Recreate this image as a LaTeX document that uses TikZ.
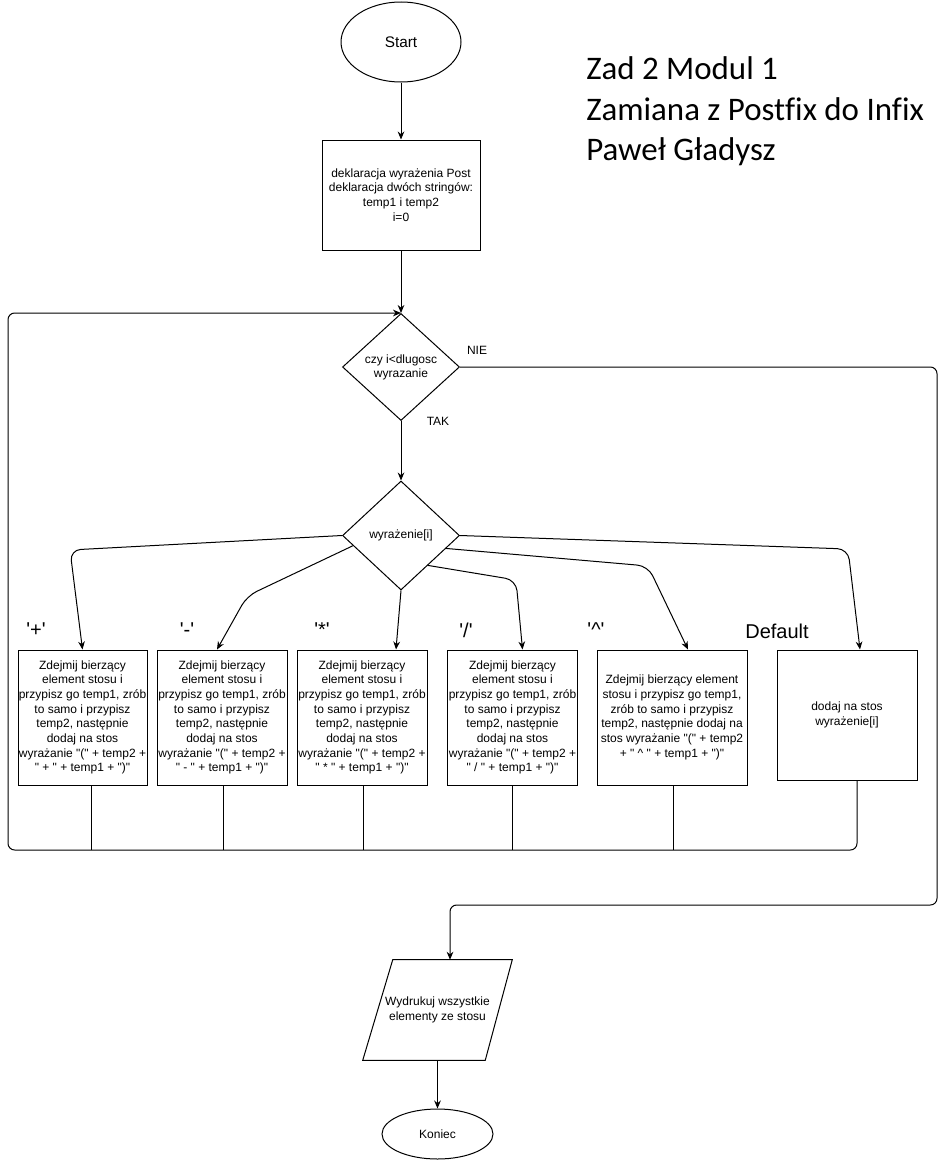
\documentclass[tikz,border=0pt]{standalone}
\usepackage{fontspec}
\newfontfamily\arial{Liberation Sans}
\newfontfamily\calibri{Carlito}[Ligatures=NoCommon]
\usetikzlibrary{arrows.meta,shapes.geometric,calc}

\begin{document}
\begin{tikzpicture}[x=0.75pt,y=-0.75pt,
  every node/.style={font=\arial\fontsize{9}{11}\selectfont},
  line/.style={line width=0.75pt},
  flow/.style={line, -{Stealth[length=6pt,width=5pt]}},
  box/.style={draw, line width=0.75pt, rectangle, inner sep=0pt, align=center},
  term/.style={draw, line width=0.75pt, ellipse, inner sep=0pt},
  decision/.style={draw, line width=0.75pt, diamond, inner sep=0pt, align=center,
    font=\arial\fontsize{9}{10.5}\selectfont},
  case/.style={font=\arial\fontsize{15}{18}\selectfont},
  title/.style={font=\calibri\fontsize{24.7}{30}\selectfont, anchor=base west, inner sep=0pt},
  link/.style={flow, rounded corners=8pt},
  back/.style={line, rounded corners=5pt}
]
\fill[white] (0,0) rectangle (946,1160);
\useasboundingbox (0,0) rectangle (946,1160);

% title block
\node[title] (t1) at (586,79) {Zad 2 Modul 1};
\node[title] (t2) at (586,120) {Zamiana z Postfix do Infix};
\node[title] (t3) at (586,160) {Paweł Gładysz};

% main column
\node[term, minimum width=90pt, minimum height=60pt, font=\arial\fontsize{11.5}{14}\selectfont]
  (start) at (401,42) {Start};
\node[box, minimum width=118.5pt, minimum height=82.5pt] (decl) at (401,195)
  {deklaracja wyrażenia Post\\deklaracja dwóch stringów:\\temp1 i temp2\\i=0};
\node[decision, minimum width=87.75pt, minimum height=80.25pt] (cond) at (401,367)
  {czy i<dlugosc\\wyrazanie};
\node (nie) at (477,350) {NIE};
\node (tak) at (438,421) {TAK};
\node[decision, minimum width=87.75pt, minimum height=81.75pt] (sw) at (401,535.5)
  {wyrażenie[i]};

% case labels
\node[case] (lplus) at (36,630) {'+'};
\node[case] (lminus) at (187,630) {'-'};
\node[case] (lmul) at (322,630) {'*'};
\node[case] (ldiv) at (466,630) {'/'};
\node[case] (lpow) at (596,630) {'\textasciicircum'};
\node[case] (ldef) at (777,631) {Default};

% operation boxes
\node[box, minimum width=96.75pt, minimum height=101.25pt] (opA) at (82.5,717.5)
  {Zdejmij bierzący\\element stosu i\\przypisz go temp1, zrób\\to samo i przypisz\\temp2, następnie\\dodaj na stos\\wyrażanie "(" + temp2 +\\" + " + temp1 + ")"};
\node[box, minimum width=97.5pt, minimum height=101.25pt] (opB) at (222,717.5)
  {Zdejmij bierzący\\element stosu i\\przypisz go temp1, zrób\\to samo i przypisz\\temp2, następnie\\dodaj na stos\\wyrażanie "(" + temp2 +\\" - " + temp1 + ")"};
\node[box, minimum width=97.5pt, minimum height=101.25pt] (opC) at (362,717.5)
  {Zdejmij bierzący\\element stosu i\\przypisz go temp1, zrób\\to samo i przypisz\\temp2, następnie\\dodaj na stos\\wyrażanie "(" + temp2 +\\" * " + temp1 + ")"};
\node[box, minimum width=97.5pt, minimum height=101.25pt] (opD) at (512.5,717.5)
  {Zdejmij bierzący\\element stosu i\\przypisz go temp1, zrób\\to samo i przypisz\\temp2, następnie\\dodaj na stos\\wyrażanie "(" + temp2 +\\" / " + temp1 + ")"};
\node[box, minimum width=112.5pt, minimum height=101.25pt] (opE) at (672,717.5)
  {Zdejmij bierzący element\\stosu i przypisz go temp1,\\zrób to samo i przypisz\\temp2, następnie dodaj na\\stos wyrażanie "(" + temp2\\+ " \textasciicircum{} " + temp1 + ")"};
\node[box, minimum width=105pt, minimum height=97.5pt] (opF) at (847,715)
  {dodaj na stos\\wyrażenie[i]};

% output and end
\node[inner sep=0pt, minimum width=111.75pt, minimum height=75pt, align=center] (print) at (437.5,1010)
  {Wydrukuj wszystkie\\elementy ze stosu};
\draw[line] ($(print.north west)+(30,0)$) -- (print.north east)
  -- ($(print.south east)+(-27,0)$) -- (print.south west) -- cycle;
\node[term, minimum width=83.25pt, minimum height=37.5pt] (end) at (437.5,1134) {Koniec};

% junctions of the loop-back lines
\coordinate (jA) at (91,850);
\coordinate (jB) at (223,850);
\coordinate (jC) at (363,850);
\coordinate (jD) at (512,850);
\coordinate (jE) at (673,850);
\coordinate (jF) at (857,850);
\coordinate (lft) at (8,850);
\coordinate (nie1) at (937,905);
\coordinate (nie2) at (450,905);

% connectors
\draw[flow] (start) -- (decl);
\draw[flow] (decl) -- (cond);
\draw[flow] (cond) -- (sw);

\draw[link] (sw.west) -- (70,550) -- (opA.north);
\draw[link] (sw.192) -- (247,596) -- ([xshift=-3.75pt]opB.north);
\draw[flow] (sw.south) -- ([xshift=25.5pt]opC.north);
\draw[link] (sw.312) -- (516,580) -- ([xshift=7.5pt]opD.north);
\draw[link] (sw.344) -- (648,566) -- ([xshift=12pt]opE.north);
\draw[link] (sw.east) -- (848,549) -- ([xshift=9.75pt]opF.north);

\draw[line] (opA.south -| jA) -- (jA);
\draw[line] (opB.south -| jB) -- (jB);
\draw[line] (opC.south -| jC) -- (jC);
\draw[line] (opD.south -| jD) -- (jD);
\draw[line] (opE.south -| jE) -- (jE);
\draw[back, -{Stealth[length=6pt,width=5pt]}] (opF.south -| jF) -- (jF) -- (lft)
  -- (cond.north -| lft) -- (cond.north);

\draw[flow, rounded corners=5pt] (cond.east) -- (cond.east -| nie1) -- (nie1)
  -- (nie2) -- (nie2 |- print.north);
\draw[flow] (print) -- (end);
\end{tikzpicture}
\end{document}
